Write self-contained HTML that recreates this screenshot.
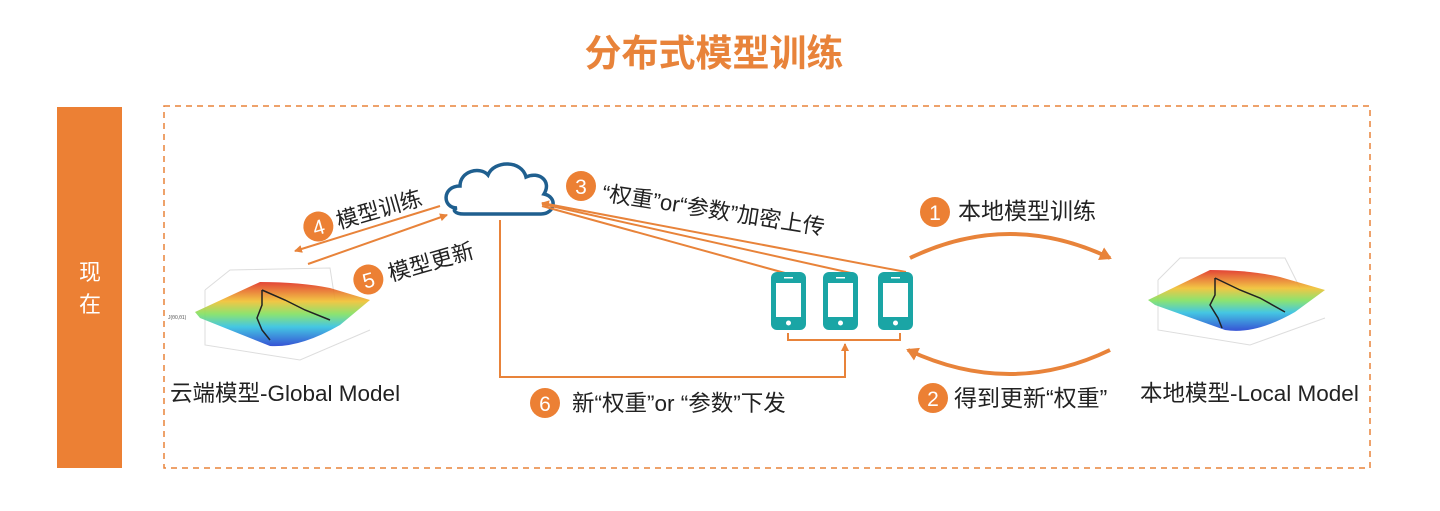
<!DOCTYPE html>
<html><head><meta charset="utf-8"><style>
body{margin:0;background:#fff;}
svg{display:block;font-family:"Liberation Sans","Noto Sans CJK SC",sans-serif;}
</style></head><body>
<svg width="1440" height="511" viewBox="0 0 1440 511" xmlns="http://www.w3.org/2000/svg">
<defs>
<marker id="ah" markerWidth="8" markerHeight="8" refX="7" refY="4" orient="auto" markerUnits="userSpaceOnUse"><path d="M0,0 L8,4 L0,8 Z" fill="#E8833A"/></marker>
<marker id="ah2" markerWidth="14" markerHeight="14" refX="10" refY="7" orient="auto" markerUnits="userSpaceOnUse"><path d="M0,0 L12,7 L0,14 Z" fill="#E8833A"/></marker>
<linearGradient id="surf" x1="0" y1="0" x2="0" y2="1">
<stop offset="0" stop-color="#e03020"/><stop offset="0.3" stop-color="#f0c030"/><stop offset="0.5" stop-color="#80e060"/><stop offset="0.7" stop-color="#30c0e0"/><stop offset="1" stop-color="#2040d0"/></linearGradient>
</defs>
<text x="714" y="66" text-anchor="middle" font-size="37" font-weight="bold" fill="#E8833A">分布式模型训练</text>
<rect x="57" y="107" width="65" height="361" fill="#EC8034"/>
<text x="90" y="280" text-anchor="middle" font-size="22" fill="#fff">现</text>
<text x="90" y="312" text-anchor="middle" font-size="22" fill="#fff">在</text>
<rect x="164" y="106" width="1206" height="362" fill="none" stroke="#E8833A" stroke-width="1.5" stroke-dasharray="6,5"/>
<!-- cloud -->
<path d="M457,208 C442,208 442,186 460,186 C460,171 480,166 488,175 C494,160 522,160 526,177 C539,171 552,181 544,194 C558,197 555,214 541,214 L464,214 C454,214 452,209 457,208 Z" fill="#fff" stroke="#1f5f8f" stroke-width="3.5"/>
<!-- arrows 4/5 -->
<line x1="440" y1="206" x2="295" y2="251" stroke="#E8833A" stroke-width="2" marker-end="url(#ah)"/>
<line x1="308" y1="264" x2="447" y2="215" stroke="#E8833A" stroke-width="2" marker-end="url(#ah)"/>
<g transform="rotate(-16 320 225)"><circle cx="318" cy="226" r="15" fill="#EC8034"/><text x="318" y="234" text-anchor="middle" font-size="21" fill="#fff">4</text><text x="337" y="234" font-size="22" fill="#222">模型训练</text></g>
<g transform="rotate(-16 370 278)"><circle cx="368" cy="279" r="15" fill="#EC8034"/><text x="368" y="287" text-anchor="middle" font-size="21" fill="#fff">5</text><text x="389" y="287" font-size="22" fill="#222">模型更新</text></g>
<!-- arrows 3 -->
<line x1="785" y1="273" x2="542" y2="206" stroke="#E8833A" stroke-width="2"/>
<line x1="851" y1="273" x2="542" y2="204" stroke="#E8833A" stroke-width="2"/>
<line x1="906" y1="272" x2="542" y2="203" stroke="#E8833A" stroke-width="2" marker-end="url(#ah)"/>
<circle cx="581" cy="186" r="15" fill="#EC8034"/><text x="581" y="194" text-anchor="middle" font-size="21" fill="#fff">3</text>
<g transform="rotate(9 602 195)"><text x="602" y="200" font-size="22" fill="#222">“权重”or“参数”加密上传</text></g>
<!-- phones -->
<g fill="#1AA5A5">
<rect x="771" y="272" width="35" height="58" rx="6"/><rect x="823" y="272" width="35" height="58" rx="6"/><rect x="878" y="272" width="35" height="58" rx="6"/>
</g>
<g fill="#fff">
<rect x="776" y="283" width="25" height="34"/><rect x="828" y="283" width="25" height="34"/><rect x="883" y="283" width="25" height="34"/>
<circle cx="788.5" cy="323" r="2.5"/><circle cx="840.5" cy="323" r="2.5"/><circle cx="895.5" cy="323" r="2.5"/>
<rect x="784" y="277" width="9" height="1.5"/><rect x="836" y="277" width="9" height="1.5"/><rect x="891" y="277" width="9" height="1.5"/>
</g>
<path d="M788,333 V340 H900 V333" fill="none" stroke="#E8833A" stroke-width="2"/>
<path d="M500,220 V377 H845 V344" fill="none" stroke="#E8833A" stroke-width="2" marker-end="url(#ah)"/>
<circle cx="545" cy="403" r="15" fill="#EC8034"/><text x="545" y="411" text-anchor="middle" font-size="21" fill="#fff">6</text>
<text x="572" y="411" font-size="22.5" fill="#222">新“权重”or “参数”下发</text>
<!-- arcs -->
<path d="M910,258 Q1010,210 1110,258" fill="none" stroke="#E8833A" stroke-width="4" marker-end="url(#ah2)"/>
<path d="M1110,350 Q1010,398 908,350" fill="none" stroke="#E8833A" stroke-width="4" marker-end="url(#ah2)"/>
<circle cx="935" cy="212" r="15" fill="#EC8034"/><text x="935" y="220" text-anchor="middle" font-size="21" fill="#fff">1</text>
<text x="958" y="219" font-size="23" fill="#222">本地模型训练</text>
<circle cx="933" cy="398" r="15" fill="#EC8034"/><text x="933" y="406" text-anchor="middle" font-size="21" fill="#fff">2</text>
<text x="954" y="406" font-size="23" fill="#222">得到更新“权重”</text>
<!-- surfaces -->
<g>
<path d="M205,290 L230,270 L330,268 L335,300 M205,290 L205,345 L300,360 L370,330" fill="none" stroke="#ddd" stroke-width="1"/>
<path d="M195,312 L260,282 Q300,282 330,288 L370,300 L340,325 Q300,348 270,346 L200,318 Z" fill="url(#surf)" opacity="0.9"/>
<polyline points="262,290 262,305 257,318 262,330 270,340" fill="none" stroke="#222" stroke-width="1.5"/>
<polyline points="262,290 285,300 305,310 330,320" fill="none" stroke="#222" stroke-width="1.5"/>
<text x="168" y="319" font-size="5" fill="#555">J(θ0,θ1)</text>
</g>
<g>
<path d="M1158,280 L1180,258 L1285,258 L1300,288 M1158,280 L1158,330 L1250,345 L1325,318" fill="none" stroke="#ddd" stroke-width="1"/>
<path d="M1148,300 L1210,270 Q1250,270 1280,277 L1325,290 L1295,312 Q1255,335 1225,330 L1155,305 Z" fill="url(#surf)" opacity="0.9"/>
<polyline points="1215,278 1215,295 1210,305 1218,318 1222,328" fill="none" stroke="#222" stroke-width="1.5"/>
<polyline points="1215,278 1240,290 1260,298 1285,312" fill="none" stroke="#222" stroke-width="1.5"/>
</g>
<text x="170" y="401" font-size="22.5" fill="#222">云端模型-Global Model</text>
<text x="1140" y="401" font-size="22.5" fill="#222">本地模型-Local Model</text>
</svg>
</body></html>
